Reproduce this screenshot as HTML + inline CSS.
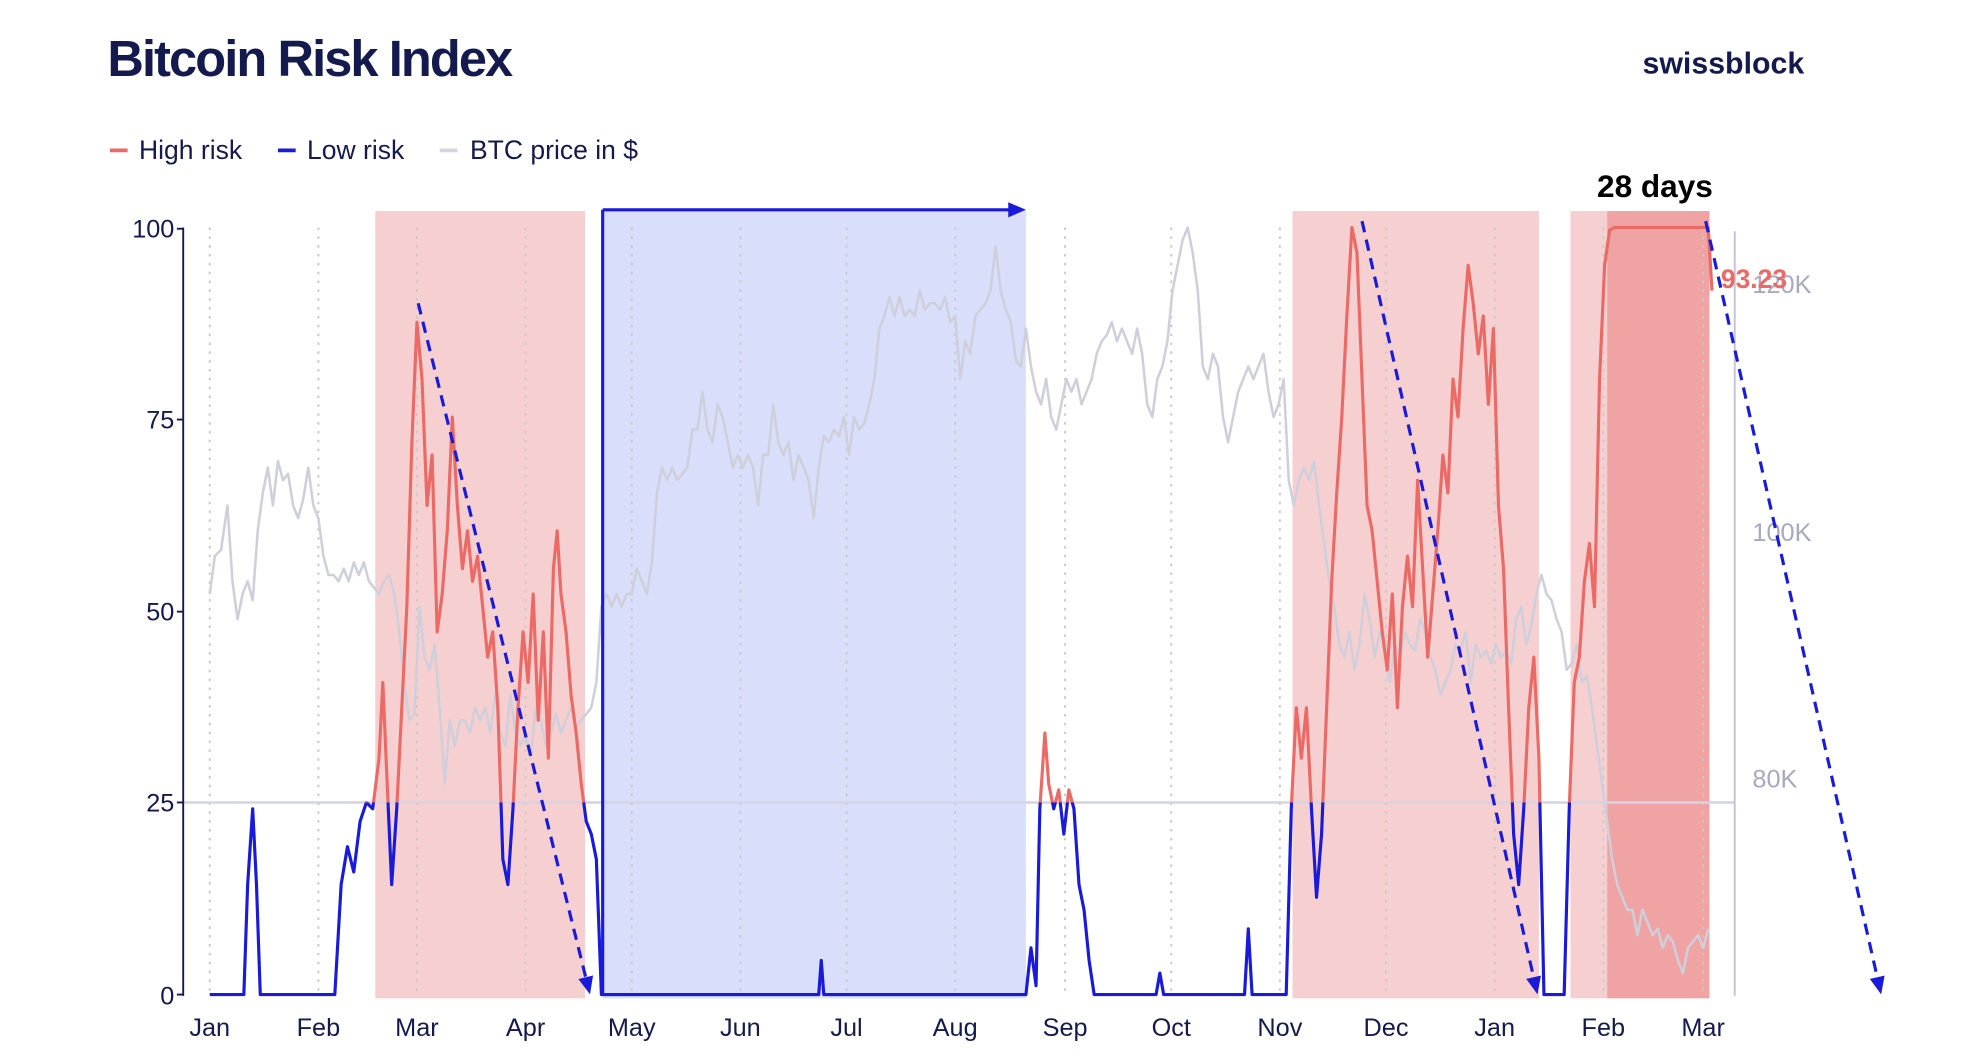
<!DOCTYPE html>
<html><head><meta charset="utf-8"><style>
html,body{margin:0;padding:0;background:#fff;}
svg{display:block;}
text{font-family:"Liberation Sans",sans-serif;}
</style></head><body>
<svg width="1971" height="1059" viewBox="0 0 1560 838" preserveAspectRatio="none" xmlns="http://www.w3.org/2000/svg">
<defs>
<clipPath id="above"><rect x="0" y="0" width="1560" height="635"/></clipPath>
<clipPath id="below"><rect x="0" y="635" width="1560" height="300"/></clipPath>
<marker id="ah" markerWidth="14" markerHeight="12" refX="10" refY="6" orient="auto" markerUnits="userSpaceOnUse"><path d="M0,0 L14,6 L0,12 z" fill="#1a1adb"/></marker>
</defs>
<text x="85" y="60" font-size="40" font-weight="bold" fill="#141a4e" letter-spacing="-1.5">Bitcoin Risk Index</text>
<text x="1300" y="58" font-size="24" font-weight="bold" fill="#141a4e">swissblock</text>
<g font-size="21" fill="#141a4e">
<line x1="87" y1="119" x2="101" y2="119" stroke="#ec6a66" stroke-width="3"/><text x="110" y="126">High risk</text>
<line x1="220" y1="119" x2="234" y2="119" stroke="#1a1adb" stroke-width="3"/><text x="243" y="126">Low risk</text>
<line x1="348" y1="119" x2="362" y2="119" stroke="#d4d4e0" stroke-width="3"/><text x="372" y="126">BTC price in $</text>
</g>
<rect x="297" y="167" width="166" height="623" fill="#f6d0d0"/>
<rect x="1023" y="167" width="195" height="623" fill="#f6d0d0"/>
<rect x="1243" y="167" width="29" height="623" fill="#f6d0d0"/>
<rect x="1272" y="167" width="81" height="623" fill="#f0a3a3"/>
<rect x="477" y="166" width="335" height="624" fill="#d9defa"/>
<g stroke="#c8c8c8" stroke-width="1.5" stroke-dasharray="2,5">
<line x1="166" y1="180" x2="166" y2="787"/><line x1="252" y1="180" x2="252" y2="787"/><line x1="330" y1="180" x2="330" y2="787"/><line x1="416" y1="180" x2="416" y2="787"/><line x1="500" y1="180" x2="500" y2="787"/><line x1="586" y1="180" x2="586" y2="787"/><line x1="670" y1="180" x2="670" y2="787"/><line x1="756" y1="180" x2="756" y2="787"/><line x1="843" y1="180" x2="843" y2="787"/><line x1="927" y1="180" x2="927" y2="787"/><line x1="1013" y1="180" x2="1013" y2="787"/><line x1="1097" y1="180" x2="1097" y2="787"/><line x1="1183" y1="180" x2="1183" y2="787"/><line x1="1269" y1="180" x2="1269" y2="787"/><line x1="1348" y1="180" x2="1348" y2="787"/>
</g>
<polyline fill="none" stroke="#cfcfdc" stroke-width="2" stroke-linejoin="round" points="166,470 170,440 175,435 180,400 184,460 188,490 192,470 196,460 200,475 204,420 208,390 212,370 216,400 220,365 224,380 228,375 232,400 236,410 240,395 244,370 248,400 252,410 256,440 260,455 264,455 268,460 272,450 276,460 280,445 284,455 288,445 292,460 296,465 300,470 304,460 308,455 312,470 316,500 320,540 324,570 328,565 332,480 336,520 340,530 344,510 348,560 352,620 356,570 360,590 364,570 368,570 372,580 376,560 380,570 384,560 388,580 392,550 396,580 400,590 404,550 408,580 412,590 416,580 420,600 424,560 428,570 432,590 436,580 440,565 444,580 448,570 452,560 456,575 460,570 464,565 468,560 472,540 476,480 480,470 484,480 488,470 492,480 496,470 500,470 504,450 508,460 512,470 516,445 520,390 524,370 528,380 532,370 536,380 540,375 544,370 548,340 552,340 556,310 560,340 564,350 568,320 572,330 576,350 580,370 584,360 588,370 592,360 596,370 600,400 604,360 608,360 612,320 616,350 620,360 624,350 628,380 632,360 636,370 640,380 644,410 648,370 652,345 656,350 660,340 664,345 668,330 672,360 676,330 680,340 684,335 688,320 692,300 696,260 700,250 704,235 708,250 712,235 716,250 720,245 724,250 728,230 732,245 736,240 740,240 744,245 748,235 752,255 756,250 760,300 764,270 768,280 772,250 776,245 780,240 784,230 788,195 792,230 796,245 800,255 804,285 808,290 812,260 816,290 820,310 824,320 828,300 832,330 836,340 840,320 844,300 848,310 852,300 856,320 860,310 864,300 868,280 872,270 876,265 880,255 884,270 888,260 892,270 896,280 900,260 904,280 908,320 912,330 916,300 920,290 924,270 928,230 932,210 936,190 940,180 944,200 948,230 952,290 956,300 960,280 964,290 968,330 972,350 976,330 980,310 984,300 988,290 992,300 996,290 1000,280 1004,310 1008,330 1012,320 1016,300 1020,380 1024,400 1028,380 1032,370 1036,380 1040,365 1044,400 1048,430 1052,460 1056,480 1060,510 1064,520 1068,500 1072,530 1076,510 1080,470 1084,490 1088,520 1092,500 1096,510 1100,540 1104,510 1108,520 1112,500 1116,510 1120,515 1124,490 1128,500 1132,520 1136,530 1140,550 1144,540 1148,530 1152,510 1156,515 1160,500 1164,540 1168,510 1172,520 1176,515 1180,525 1184,510 1188,520 1192,515 1196,525 1200,490 1204,480 1208,510 1212,495 1216,470 1220,455 1224,470 1228,475 1232,490 1236,500 1240,530 1244,525 1248,510 1252,540 1256,535 1260,560 1264,590 1268,620 1272,650 1276,680 1280,700 1284,710 1288,720 1292,720 1296,740 1300,720 1304,730 1308,740 1312,735 1316,750 1320,740 1324,745 1328,760 1332,770 1336,750 1340,745 1344,740 1348,750 1352,735"/>
<line x1="145" y1="635" x2="1373" y2="635" stroke="#d4d4e2" stroke-width="2"/>
<line x1="145" y1="180" x2="145" y2="788" stroke="#141a4e" stroke-width="1.5"/>
<line x1="1373" y1="183" x2="1373" y2="788" stroke="#c4c4d6" stroke-width="1.5"/>
<g stroke="#141a4e" stroke-width="1.5"><line x1="140" y1="181" x2="145" y2="181"/><line x1="140" y1="332" x2="145" y2="332"/><line x1="140" y1="484" x2="145" y2="484"/><line x1="140" y1="635" x2="145" y2="635"/><line x1="140" y1="787" x2="145" y2="787"/></g>
<g font-size="20" fill="#141a4e" text-anchor="end">
<text x="138" y="188">100</text><text x="138" y="339">75</text><text x="138" y="491">50</text><text x="138" y="642">25</text><text x="138" y="795">0</text>
</g>
<g font-size="20" fill="#a8a8c0">
<text x="1387" y="232">120K</text><text x="1387" y="428">100K</text><text x="1387" y="623">80K</text>
</g>
<g font-size="20" fill="#141a4e" text-anchor="middle">
<text x="166" y="820">Jan</text><text x="252" y="820">Feb</text><text x="330" y="820">Mar</text><text x="416" y="820">Apr</text><text x="500" y="820">May</text><text x="586" y="820">Jun</text><text x="670" y="820">Jul</text><text x="756" y="820">Aug</text><text x="843" y="820">Sep</text><text x="927" y="820">Oct</text><text x="1013" y="820">Nov</text><text x="1097" y="820">Dec</text><text x="1183" y="820">Jan</text><text x="1269" y="820">Feb</text><text x="1348" y="820">Mar</text>
</g>
<g id="risk">
<polyline id="rp" fill="none" stroke-width="2.5" stroke-linejoin="round" points="166,787 193,787 196,700 200,640 203,700 206,787 265,787 270,700 275,670 280,690 285,650 290,635 295,640 300,600 303,540 306,610 310,700 314,640 318,560 322,480 326,350 330,255 334,300 338,400 342,360 346,500 350,470 354,420 358,330 362,400 366,450 370,420 374,460 378,440 382,480 386,520 390,500 394,560 398,680 402,700 406,640 410,560 414,500 418,540 422,470 426,570 430,500 434,600 438,450 441,420 444,470 448,500 452,550 456,580 460,620 464,650 468,660 472,680 476,787 648,787 650,760 652,787 812,787 816,750 820,780 823,640 827,580 830,620 834,640 838,625 842,660 846,625 850,640 854,700 858,720 862,760 866,787 915,787 918,770 921,787 985,787 988,735 991,787 1018,787 1022,640 1026,560 1030,600 1034,560 1038,640 1042,710 1046,660 1050,560 1054,460 1058,390 1062,330 1066,250 1070,180 1074,200 1078,300 1082,400 1086,420 1090,460 1094,500 1098,530 1102,470 1106,560 1110,480 1114,440 1118,480 1122,380 1126,450 1130,520 1134,470 1138,420 1142,360 1146,390 1150,300 1154,330 1158,260 1162,210 1166,240 1170,280 1174,250 1178,320 1182,260 1186,400 1190,450 1194,560 1198,660 1202,700 1206,640 1210,560 1214,520 1218,600 1222,787 1238,787 1242,640 1246,540 1250,520 1254,460 1258,430 1262,480 1266,300 1270,210 1274,182 1278,180 1352,180 1355,230"/>
</g>
<use href="#rp" stroke="#ec6a66" clip-path="url(#above)"/>
<use href="#rp" stroke="#1a1adb" clip-path="url(#below)"/>
<style>#risk{display:none}</style>
<line x1="477" y1="166" x2="477" y2="787" stroke="#1a1adb" stroke-width="2.5"/>
<line x1="477" y1="166" x2="808" y2="166" stroke="#1a1adb" stroke-width="2.5" marker-end="url(#ah)"/>
<g stroke="#1a1adb" stroke-width="2.5" stroke-dasharray="9,6" fill="none">
<line x1="331" y1="240" x2="466" y2="783" marker-end="url(#ah)"/>
<line x1="1078" y1="175" x2="1216" y2="783" marker-end="url(#ah)"/>
<line x1="1350" y1="175" x2="1488" y2="783" marker-end="url(#ah)"/>
</g>
<text x="1362" y="228" font-size="21" font-weight="bold" fill="#ec6a66">93.23</text>
<text x="1264" y="156" font-size="25" font-weight="bold" fill="#000">28 days</text>
</svg>
</body></html>
